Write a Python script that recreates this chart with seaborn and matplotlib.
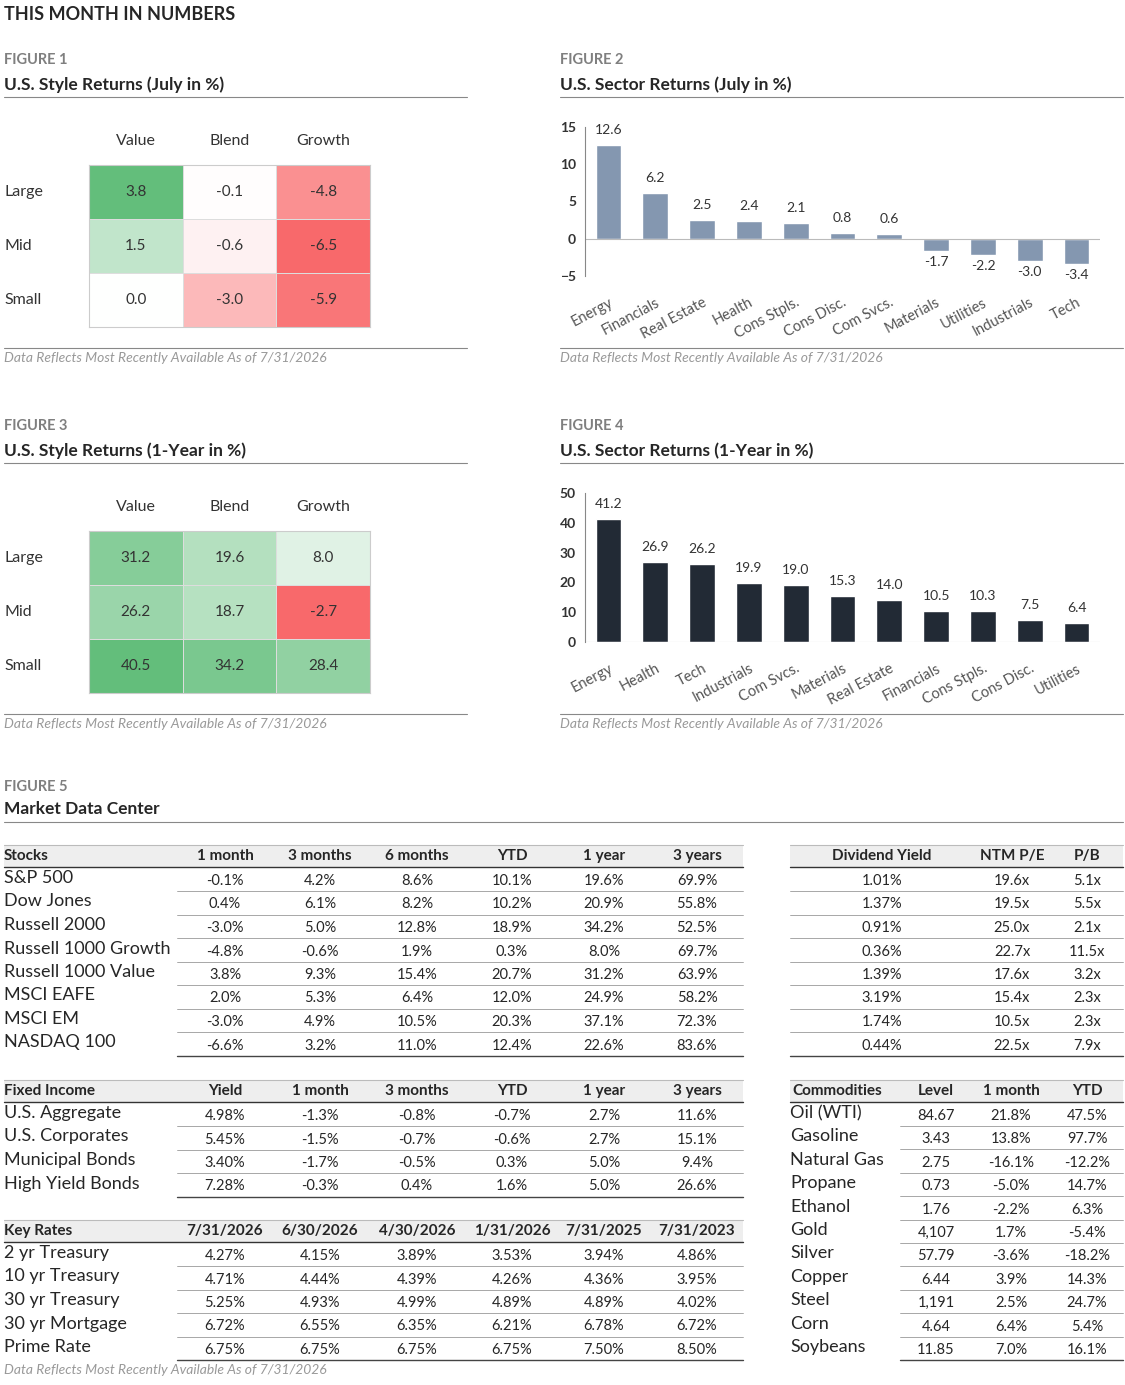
import numpy as np
import pandas as pd
import matplotlib.pyplot as plt
from matplotlib.colors import LinearSegmentedColormap, TwoSlopeNorm
import seaborn as sns

sns.set_style('white')
plt.rcParams['font.family'] = ['Lato', 'DejaVu Sans']

W, H = 1125, 1385
GRAY = '#7f7f7f'

style_rows = ['Large', 'Mid', 'Small']
style_cols = ['Value', 'Blend', 'Growth']
style_july = [[3.8, -0.1, -4.8], [1.5, -0.6, -6.5], [0.0, -3.0, -5.9]]
style_1y = [[31.2, 19.6, 8.0], [26.2, 18.7, -2.7], [40.5, 34.2, 28.4]]

sect_july = ['Energy', 'Financials', 'Real Estate', 'Health', 'Cons Stpls.', 'Cons Disc.',
             'Com Svcs.', 'Materials', 'Utilities', 'Industrials', 'Tech']
sect_july_val = [12.6, 6.2, 2.5, 2.4, 2.1, 0.8, 0.6, -1.7, -2.2, -3.0, -3.4]
sect_1y = ['Energy', 'Health', 'Tech', 'Industrials', 'Com Svcs.', 'Materials', 'Real Estate',
           'Financials', 'Cons Stpls.', 'Cons Disc.', 'Utilities']
sect_1y_val = [41.2, 26.9, 26.2, 19.9, 19.0, 15.3, 14.0, 10.5, 10.3, 7.5, 6.4]

stock_hdr = ['Stocks', '1 month', '3 months', '6 months', 'YTD', '1 year', '3 years']
stock_names = ['S&P 500', 'Dow Jones', 'Russell 2000', 'Russell 1000 Growth', 'Russell 1000 Value',
               'MSCI EAFE', 'MSCI EM', 'NASDAQ 100']
stock_vals = [['-0.1%', '4.2%', '8.6%', '10.1%', '19.6%', '69.9%'],
              ['0.4%', '6.1%', '8.2%', '10.2%', '20.9%', '55.8%'],
              ['-3.0%', '5.0%', '12.8%', '18.9%', '34.2%', '52.5%'],
              ['-4.8%', '-0.6%', '1.9%', '0.3%', '8.0%', '69.7%'],
              ['3.8%', '9.3%', '15.4%', '20.7%', '31.2%', '63.9%'],
              ['2.0%', '5.3%', '6.4%', '12.0%', '24.9%', '58.2%'],
              ['-3.0%', '4.9%', '10.5%', '20.3%', '37.1%', '72.3%'],
              ['-6.6%', '3.2%', '11.0%', '12.4%', '22.6%', '83.6%']]
val_hdr = ['Dividend Yield', 'NTM P/E', 'P/B']
val_vals = [['1.01%', '19.6x', '5.1x'], ['1.37%', '19.5x', '5.5x'], ['0.91%', '25.0x', '2.1x'],
            ['0.36%', '22.7x', '11.5x'], ['1.39%', '17.6x', '3.2x'], ['3.19%', '15.4x', '2.3x'],
            ['1.74%', '10.5x', '2.3x'], ['0.44%', '22.5x', '7.9x']]
fi_hdr = ['Fixed Income', 'Yield', '1 month', '3 months', 'YTD', '1 year', '3 years']
fi_names = ['U.S. Aggregate', 'U.S. Corporates', 'Municipal Bonds', 'High Yield Bonds']
fi_vals = [['4.98%', '-1.3%', '-0.8%', '-0.7%', '2.7%', '11.6%'],
           ['5.45%', '-1.5%', '-0.7%', '-0.6%', '2.7%', '15.1%'],
           ['3.40%', '-1.7%', '-0.5%', '0.3%', '5.0%', '9.4%'],
           ['7.28%', '-0.3%', '0.4%', '1.6%', '5.0%', '26.6%']]
kr_hdr = ['Key Rates', '7/31/2026', '6/30/2026', '4/30/2026', '1/31/2026', '7/31/2025', '7/31/2023']
kr_names = ['2 yr Treasury', '10 yr Treasury', '30 yr Treasury', '30 yr Mortgage', 'Prime Rate']
kr_vals = [['4.27%', '4.15%', '3.89%', '3.53%', '3.94%', '4.86%'],
           ['4.71%', '4.44%', '4.39%', '4.26%', '4.36%', '3.95%'],
           ['5.25%', '4.93%', '4.99%', '4.89%', '4.89%', '4.02%'],
           ['6.72%', '6.55%', '6.35%', '6.21%', '6.78%', '6.72%'],
           ['6.75%', '6.75%', '6.75%', '6.75%', '7.50%', '8.50%']]
com_hdr = ['Commodities', 'Level', '1 month', 'YTD']
com_names = ['Oil (WTI)', 'Gasoline', 'Natural Gas', 'Propane', 'Ethanol', 'Gold', 'Silver',
             'Copper', 'Steel', 'Corn', 'Soybeans']
com_vals = [['84.67', '21.8%', '47.5%'], ['3.43', '13.8%', '97.7%'], ['2.75', '-16.1%', '-12.2%'],
            ['0.73', '-5.0%', '14.7%'], ['1.76', '-2.2%', '6.3%'], ['4,107', '1.7%', '-5.4%'],
            ['57.79', '-3.6%', '-18.2%'], ['6.44', '3.9%', '14.3%'], ['1,191', '2.5%', '24.7%'],
            ['4.64', '6.4%', '5.4%'], ['11.85', '7.0%', '16.1%']]

fig = plt.figure(figsize=(W / 100, H / 100), dpi=100)


def T(x, y, s, **kw):
    kw.setdefault('va', 'center')
    kw.setdefault('fontsize', 11)
    fig.text(x / W, 1 - y / H, s, **kw)


def hline(x0, x1, y, color='#888888', lw=0.8):
    fig.add_artist(plt.Line2D([x0 / W, x1 / W], [1 - y / H, 1 - y / H], color=color, lw=lw))


def rect(x0, x1, y0, y1, color):
    fig.add_artist(plt.Rectangle((x0 / W, 1 - y1 / H), (x1 - x0) / W, (y1 - y0) / H,
                                 color=color, lw=0, zorder=0))


def axes_px(x0, y0, x1, y1):
    return fig.add_axes([x0 / W, 1 - y1 / H, (x1 - x0) / W, (y1 - y0) / H])


foot = 'Data Reflects Most Recently Available As of 7/31/2026'
T(4, 14, 'THIS MONTH IN NUMBERS', fontsize=13, fontweight='bold')

cmap = LinearSegmentedColormap.from_list('rg', ['#F8696B', '#FFFFFF', '#63BE7B'])


def heat(x0, y0, vals, num, title):
    T(x0, y0, num, color=GRAY, fontsize=10.5, fontweight='bold')
    T(x0, y0 + 25, title, fontsize=12.5, fontweight='bold')
    hline(x0, x0 + 463, y0 + 37)
    ax = axes_px(x0 + 85, y0 + 105, x0 + 366, y0 + 267)
    arr = np.array(vals)
    norm = TwoSlopeNorm(vcenter=0, vmin=min(arr.min(), -0.01), vmax=arr.max())
    sns.heatmap(pd.DataFrame(arr, index=style_rows, columns=style_cols), ax=ax, cmap=cmap,
                norm=norm, annot=True, fmt='.1f', cbar=False, linewidths=0.6,
                linecolor='#dddddd', annot_kws={'fontsize': 11, 'color': '#333333'})
    ax.xaxis.tick_top()
    ax.tick_params(length=0, labelsize=11.5, pad=12)
    ax.set_xticklabels(style_cols, color='#333333')
    ax.set_yticks([])
    for i, r in enumerate(style_rows):
        T(x0, y0 + 105 + 27 + 54 * i, r, fontsize=11.5, color='#333333')
    for s in ax.spines.values():
        s.set_visible(True)
        s.set_color('#cccccc')
    hline(x0, x0 + 463, y0 + 288)
    T(x0, y0 + 298, foot, color='#999999', fontsize=10, style='italic')


def bars(x0, y0, names, vals, color, num, title, ylim, ticks):
    T(x0, y0, num, color=GRAY, fontsize=10.5, fontweight='bold')
    T(x0, y0 + 25, title, fontsize=12.5, fontweight='bold')
    hline(x0, x0 + 563, y0 + 37)
    ax = axes_px(x0 + 25, y0 + 67, x0 + 540, y0 + 216)
    sns.barplot(x=names, y=vals, color=color, ax=ax, width=0.55, saturation=1)
    ax.set_ylim(*ylim)
    ax.set_yticks(ticks)
    ax.tick_params(axis='y', labelsize=10, colors='#333333', length=3)
    ax.tick_params(axis='x', length=0, labelsize=10.5, labelcolor='#555555', pad=14)
    ax.set_xticks(range(len(names)))
    ax.set_xticklabels(names, rotation=28, ha='right', rotation_mode='anchor')
    for lab in ax.get_yticklabels():
        lab.set_fontweight('bold')
    sns.despine(ax=ax, bottom=True)
    ax.spines['left'].set_color('#888888')
    ax.axhline(0, color='#bbbbbb', lw=0.8)
    off = (ylim[1] - ylim[0]) * 0.06
    for i, v in enumerate(vals):
        ax.text(i, v + off if v >= 0 else v - off * 0.5, f'{v:.1f}', ha='center',
                va='bottom' if v >= 0 else 'top', fontsize=10, color='#333333')
    hline(x0, x0 + 563, y0 + 288)
    T(x0, y0 + 298, foot, color='#999999', fontsize=10, style='italic')


heat(4, 60, style_july, 'FIGURE 1', 'U.S. Style Returns (July in %)')
bars(560, 60, sect_july, sect_july_val, '#8497B0', 'FIGURE 2', 'U.S. Sector Returns (July in %)',
     (-5, 15), [-5, 0, 5, 10, 15])
heat(4, 426, style_1y, 'FIGURE 3', 'U.S. Style Returns (1-Year in %)')
bars(560, 426, sect_1y, sect_1y_val, '#222A35', 'FIGURE 4', 'U.S. Sector Returns (1-Year in %)',
     (0, 50), [0, 10, 20, 30, 40, 50])

T(4, 787, 'FIGURE 5', color=GRAY, fontsize=10.5, fontweight='bold')
T(4, 809, 'Market Data Center', fontsize=12.5, fontweight='bold')
hline(4, 1123, 822)

colx = [225, 320, 417, 512, 604, 697]


def table(x0, x1, y_hdr, hdr, hdr_x, names, rows, row_y, val_x, line_x0, name_size=13):
    rect(x0, x1, y_hdr - 11, y_hdr + 11, '#eeeeee')
    hline(x0, x1, y_hdr - 11, '#bbbbbb')
    hline(x0, x1, y_hdr + 11, '#333333', 1.0)
    for i, h in enumerate(hdr):
        ha = 'left' if (i == 0 and names is not None) else 'center'
        T(hdr_x[i], y_hdr, h, fontweight='bold', fontsize=11, ha=ha)
    for r, row in enumerate(rows):
        y = row_y[r]
        if names is not None:
            T(x0, y - 2, names[r], fontsize=name_size)
        for c, v in enumerate(row):
            T(val_x[c], y + 1, v, fontsize=10.5, ha='center')
        hline(line_x0, x1, y + 11, '#444444' if r == len(rows) - 1 else '#999999',
              1.0 if r == len(rows) - 1 else 0.6)


sy = [880 + i * 23.5 for i in range(8)]
table(4, 743, 856, stock_hdr, [4] + colx, stock_names, stock_vals, sy, colx, 177)
table(790, 1123, 856, val_hdr, [882, 1012, 1087], None, val_vals, sy, [882, 1012, 1087], 790)
fy = [1115 + i * 23.5 for i in range(4)]
table(4, 743, 1091, fi_hdr, [4] + colx, fi_names, fi_vals, fy, colx, 177)
ky = [1255 + i * 23.5 for i in range(5)]
table(4, 743, 1231, kr_hdr, [4] + colx, kr_names, kr_vals, ky, colx, 177)
cy = [1115 + i * 23.4 for i in range(11)]
table(790, 1123, 1091, com_hdr, [792, 936, 1011, 1087], com_names, com_vals, cy,
      [936, 1011, 1087], 900)
T(4, 1370, foot, color='#999999', fontsize=10, style='italic')

fig.savefig('out.png', dpi=100)
